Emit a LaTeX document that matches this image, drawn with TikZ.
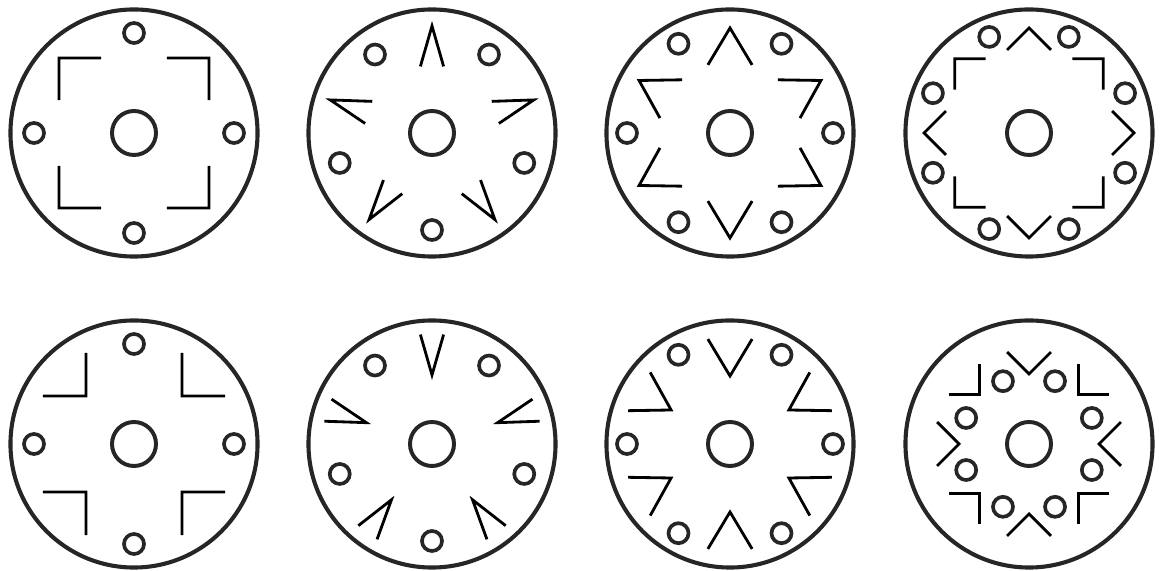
\documentclass[tikz,border=0pt]{standalone}
\usepackage{tikz}
\usetikzlibrary{calc}

\begin{document}
\begin{tikzpicture}[x=0.025cm,y=0.025cm]
\tikzset{disc/.style={draw=black!85,circle,line width=2.9pt,inner sep=0pt,minimum size=6.175cm},
hub/.style={draw=black!85,circle,line width=2.8pt,inner sep=0pt,minimum size=1.1cm},
hole/.style={draw=black!85,circle,line width=2.6pt,inner sep=0pt,minimum size=0.5cm},
chev/.style={draw=black,line width=2pt}}
\useasboundingbox (0,0) rectangle (1160,571);

% top row: chevrons point outward
\begin{scope}[shift={(134,438)}]
\node (d1) at (0,0) [disc] {};
\node (m1) at (0,0) [hub] {};
\foreach \a [count=\i] in {0,90,180,270}
  \node (h1-\i) at (\a:100) [hole] {};
\foreach \a in {45,135,225,315}
  \draw[chev,rotate=\a-90] (-29.7,76.3) -- (0,106) -- (29.7,76.3);
\end{scope}

\begin{scope}[shift={(432,438)}]
\node (d2) at (0,0) [disc] {};
\node (m2) at (0,0) [hub] {};
\foreach \a [count=\i] in {-90,-18,54,126,198}
  \node (h2-\i) at (\a:97) [hole] {};
\foreach \a in {90,162,234,306,18}
  \draw[chev,rotate=\a-90] (-11.6,66.6) -- (0,107) -- (11.6,66.6);
\end{scope}

\begin{scope}[shift={(730,438)}]
\node (d3) at (0,0) [disc] {};
\node (m3) at (0,0) [hub] {};
\foreach \a [count=\i] in {0,60,120,180,240,300}
  \node (h3-\i) at (\a:103) [hole] {};
\foreach \a in {90,150,210,270,330,30}
  \draw[chev,rotate=\a-90] (-22.1,68.1) -- (0,105) -- (22.1,68.1);
\end{scope}

\begin{scope}[shift={(1029,438)}]
\node (d4) at (0,0) [disc] {};
\node (m4) at (0,0) [hub] {};
\foreach \a [count=\i] in {22.5,67.5,...,337.5}
  \node (h4-\i) at (\a:104) [hole] {};
\foreach \a in {0,45,...,315}
  \draw[chev,rotate=\a] (-21.9,83.1) -- (0,105) -- (21.9,83.1);
\end{scope}

% bottom row: chevrons point inward
\begin{scope}[shift={(134,127)}]
\node (d5) at (0,0) [disc] {};
\node (m5) at (0,0) [hub] {};
\foreach \a [count=\i] in {0,90,180,270}
  \node (h5-\i) at (\a:100) [hole] {};
\foreach \a in {45,135,225,315}
  \draw[chev,rotate=\a-90] (-30.4,98.4) -- (0,68) -- (30.4,98.4);
\end{scope}

\begin{scope}[shift={(432,127)}]
\node (d6) at (0,0) [disc] {};
\node (m6) at (0,0) [hub] {};
\foreach \a [count=\i] in {-90,-18,54,126,198}
  \node (h6-\i) at (\a:97) [hole] {};
\foreach \a in {90,162,234,306,18}
  \draw[chev,rotate=\a-90] (-11.6,109.4) -- (0,69) -- (11.6,109.4);
\end{scope}

\begin{scope}[shift={(730,127)}]
\node (d7) at (0,0) [disc] {};
\node (m7) at (0,0) [hub] {};
\foreach \a [count=\i] in {0,60,120,180,240,300}
  \node (h7-\i) at (\a:103) [hole] {};
\foreach \a in {90,150,210,270,330,30}
  \draw[chev,rotate=\a-90] (-22.1,104.9) -- (0,68) -- (22.1,104.9);
\end{scope}

\begin{scope}[shift={(1029,127)}]
\node (d8) at (0,0) [disc] {};
\node (m8) at (0,0) [hub] {};
\foreach \a [count=\i] in {22.5,67.5,...,337.5}
  \node (h8-\i) at (\a:68) [hole] {};
\foreach \a in {0,45,...,315}
  \draw[chev,rotate=\a] (-21.9,91.9) -- (0,70) -- (21.9,91.9);
\end{scope}
\end{tikzpicture}
\end{document}
